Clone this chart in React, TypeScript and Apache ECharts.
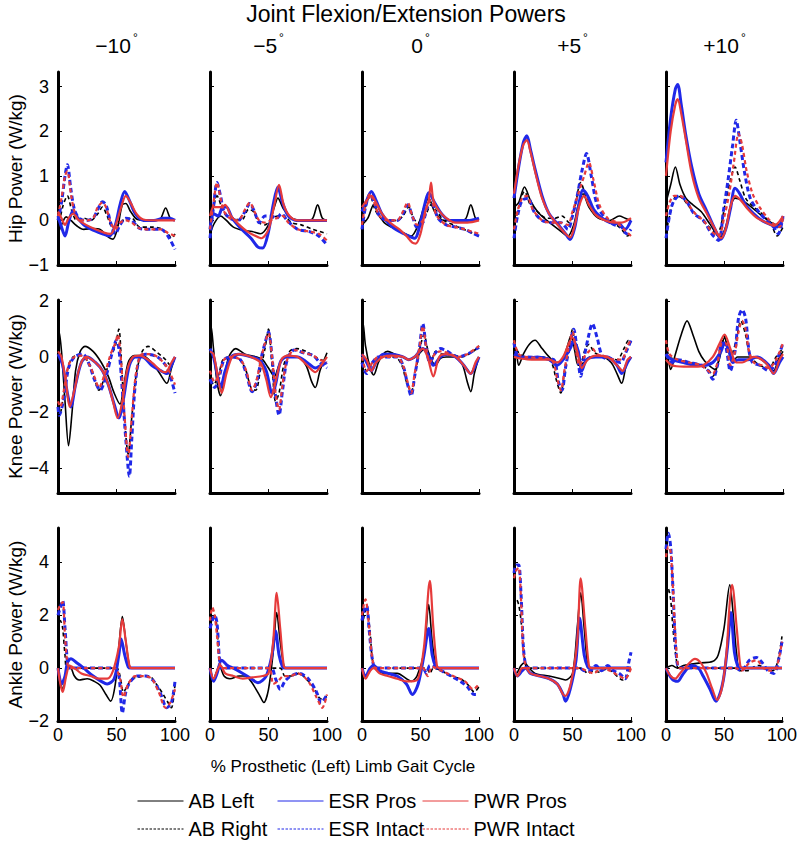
import React, { useEffect, useRef } from 'react';
import * as echarts from 'echarts';

const FONT = '"Liberation Sans", Arial, Helvetica, sans-serif';

const ANGLES = ['−10', '−5', '0', '+5', '+10'];
const JOINT_LABELS = ['Hip Power (W/kg)', 'Knee Power (W/kg)', 'Ankle Power (W/kg)'];
const SERIES_NAMES = ['AB Left', 'AB Right', 'ESR Pros', 'ESR Intact', 'PWR Pros', 'PWR Intact'];
const X_TICKS = [0, 50, 100];
const HIP_TICKS = [-1, 0, 1, 2, 3];
const KNEE_TICKS = [-4, -2, 0, 2];
const ANKLE_TICKS = [-2, 0, 2, 4];
const HIP_RANGE = [-1, 3.33];
const KNEE_RANGE = [-4.9, 2.05];
const ANKLE_RANGE = [-2, 5.3];

// ---------- HIP ----------
const hipABLeft = [
  [[0,-0.3],[3,-0.1],[7,0.08],[11,0.0],[16,-0.12],[22,-0.2],[30,-0.18],[36,-0.2],[42,-0.35],[47,-0.42],[51,-0.15],[55,0.35],[58,0.38],[62,0.2],[68,0.02],[80,0.0],[87,0.02],[92,0.28],[96,0.05],[100,0.0]],
  [[0,-0.3],[4,-0.05],[9,0.1],[14,0.0],[20,-0.15],[28,-0.22],[36,-0.25],[43,-0.3],[50,-0.1],[55,0.3],[58,0.5],[63,0.25],[70,0.05],[80,0.0],[87,0.02],[92,0.35],[96,0.05],[100,0.0]],
  [[0,-0.1],[5,0.05],[10,0.35],[14,0.15],[19,-0.05],[25,-0.15],[33,-0.25],[42,-0.35],[48,-0.1],[53,0.3],[57,0.5],[62,0.2],[70,0.0],[80,0.0],[88,0.02],[93,0.35],[97,0.05],[100,0.0]],
  [[0,0.3],[4,0.4],[9,0.75],[14,0.45],[20,0.2],[28,0.0],[38,-0.2],[46,-0.35],[51,-0.1],[55,0.35],[59,0.6],[64,0.3],[72,0.05],[82,0.0],[90,0.1],[95,0.05],[100,0.0]],
  [[0,0.4],[4,0.8],[8,1.2],[12,0.8],[17,0.5],[23,0.35],[30,0.2],[38,-0.1],[46,-0.38],[51,-0.15],[55,0.3],[59,0.5],[65,0.45],[73,0.3],[82,0.1],[90,-0.05],[95,-0.1],[100,0.0]],
];
const hipABRight = [
  [[0,-0.2],[4,0.3],[8,0.55],[12,0.2],[16,0.0],[22,0.05],[28,0.0],[34,0.15],[38,0.3],[42,0.1],[46,-0.12],[52,-0.1],[58,0.05],[63,0.05],[70,-0.15],[80,-0.15],[88,-0.18],[94,-0.3],[97,-0.4],[100,-0.3]],
  [[0,-0.1],[3,0.3],[6,0.55],[10,0.3],[14,0.1],[20,0.05],[27,0.0],[33,0.25],[37,0.2],[42,-0.05],[47,-0.1],[53,0.05],[58,0.1],[63,0.1],[70,-0.05],[78,-0.1],[88,-0.2],[94,-0.25],[100,-0.3]],
  [[0,0.0],[3,0.3],[7,0.55],[11,0.25],[16,0.05],[22,0.0],[30,0.0],[35,0.1],[40,0.3],[44,0.05],[48,-0.05],[54,0.1],[59,0.35],[64,0.2],[70,0.0],[78,-0.1],[87,-0.2],[94,-0.28],[100,-0.35]],
  [[0,-0.2],[4,0.3],[9,0.65],[14,0.35],[20,0.2],[28,0.05],[35,0.05],[41,0.1],[47,-0.05],[52,0.3],[57,0.85],[62,0.5],[68,0.2],[76,0.05],[85,-0.05],[92,-0.2],[97,-0.35],[100,-0.3]],
  [[0,-0.3],[4,0.2],[9,0.55],[14,0.5],[20,0.3],[27,0.1],[35,-0.1],[42,-0.25],[46,-0.2],[50,0.3],[55,0.9],[59,1.2],[63,0.9],[68,0.5],[75,0.3],[82,0.15],[90,-0.1],[95,-0.35],[100,-0.15]],
];
const hipESRPros = [
  [[0,0.1],[3,-0.15],[6,-0.35],[9,-0.05],[13,0.22],[17,0.05],[22,-0.1],[30,-0.22],[38,-0.3],[44,-0.35],[49,-0.1],[53,0.35],[57,0.65],[61,0.45],[66,0.15],[73,0.0],[82,0.0],[90,0.05],[95,0.05],[100,0.0]],
  [[0,-0.2],[3,0.15],[7,0.1],[11,0.3],[14,0.3],[19,0.05],[27,-0.2],[35,-0.4],[41,-0.6],[45,-0.62],[50,-0.25],[54,0.35],[58,0.75],[62,0.4],[67,0.1],[74,0.0],[85,0.0],[100,0.0]],
  [[0,0.2],[4,0.45],[8,0.65],[12,0.45],[17,0.15],[24,-0.1],[32,-0.25],[40,-0.35],[45,-0.4],[50,-0.05],[54,0.4],[57,0.62],[62,0.4],[68,0.15],[75,0.0],[85,0.0],[92,0.0],[100,0.05]],
  [[0,0.5],[4,1.2],[8,1.75],[11,1.9],[14,1.6],[18,1.15],[24,0.55],[30,0.15],[38,-0.1],[44,-0.3],[48,-0.43],[52,-0.15],[55,0.3],[59,0.68],[63,0.55],[68,0.25],[74,0.08],[82,-0.05],[90,-0.08],[95,-0.2],[100,0.0]],
  [[0,1.3],[4,2.3],[8,2.95],[10,3.05],[13,2.6],[17,1.9],[22,1.2],[28,0.6],[35,0.2],[41,-0.15],[47,-0.42],[51,-0.2],[55,0.25],[59,0.72],[63,0.6],[68,0.35],[75,0.15],[82,0.0],[90,-0.1],[95,-0.15],[100,0.05]],
];
const hipESRIntact = [
  [[0,0.0],[3,0.4],[6,1.0],[8,1.25],[11,0.7],[14,0.25],[18,0.05],[24,0.0],[30,0.05],[34,0.25],[38,0.42],[41,0.35],[45,-0.05],[49,-0.3],[53,-0.1],[58,0.05],[63,0.0],[70,-0.18],[80,-0.2],[88,-0.2],[94,-0.35],[100,-0.65]],
  [[0,-0.4],[3,0.3],[6,0.85],[9,0.55],[12,0.2],[17,0.05],[24,0.0],[30,0.2],[34,0.38],[38,0.2],[42,-0.05],[47,0.1],[52,0.1],[57,0.05],[61,0.15],[66,0.0],[75,-0.2],[85,-0.25],[93,-0.35],[100,-0.55]],
  [[0,-0.2],[3,0.3],[7,0.6],[11,0.35],[15,0.1],[22,0.0],[30,0.0],[35,0.15],[39,0.35],[43,0.1],[47,-0.15],[52,-0.05],[56,0.3],[60,0.35],[65,0.05],[72,-0.1],[80,-0.15],[88,-0.2],[94,-0.28],[100,-0.35]],
  [[0,-0.4],[3,0.1],[7,0.45],[12,0.5],[17,0.2],[24,0.0],[32,-0.05],[40,-0.05],[46,-0.2],[50,0.1],[54,0.55],[58,1.1],[62,1.5],[66,1.0],[71,0.35],[78,0.05],[86,-0.1],[92,-0.15],[96,-0.3],[100,-0.2]],
  [[0,-0.4],[3,0.1],[6,0.4],[11,0.55],[17,0.45],[24,0.15],[32,0.0],[39,-0.3],[45,-0.45],[49,0.2],[53,0.9],[57,1.7],[60,2.25],[63,1.8],[67,1.1],[72,0.5],[79,0.2],[86,0.0],[92,-0.15],[96,-0.3],[100,0.1]],
];
const hipPWRPros = [
  [[0,0.2],[3,0.05],[6,-0.1],[9,0.05],[13,0.15],[18,0.0],[24,-0.1],[32,-0.2],[40,-0.28],[45,-0.3],[50,-0.05],[54,0.3],[58,0.55],[62,0.4],[67,0.15],[73,0.02],[85,0.0],[100,0.0]],
  [[0,0.1],[3,0.3],[6,0.3],[10,0.3],[13,0.35],[18,0.1],[25,-0.1],[32,-0.25],[39,-0.35],[44,-0.4],[50,-0.2],[55,0.35],[59,0.8],[63,0.35],[68,0.1],[75,0.0],[85,0.0],[100,0.0]],
  [[0,0.3],[4,0.45],[8,0.55],[12,0.4],[17,0.15],[24,-0.05],[32,-0.2],[38,-0.35],[43,-0.5],[46,-0.52],[50,-0.3],[54,0.2],[57,0.45],[59,0.85],[61,0.45],[65,0.25],[72,0.05],[80,-0.05],[90,-0.05],[100,0.0]],
  [[0,0.6],[4,1.25],[8,1.7],[11,1.8],[14,1.55],[18,1.1],[24,0.5],[30,0.15],[38,-0.12],[44,-0.3],[48,-0.38],[52,-0.1],[56,0.35],[60,0.55],[64,0.35],[70,0.12],[78,0.0],[86,-0.05],[92,-0.05],[100,0.05]],
  [[0,1.0],[4,2.0],[8,2.6],[10,2.72],[13,2.4],[17,1.8],[22,1.05],[28,0.5],[35,0.15],[41,-0.15],[47,-0.4],[51,-0.2],[55,0.3],[59,0.55],[64,0.45],[70,0.25],[78,0.05],[86,-0.05],[92,-0.12],[96,-0.05],[100,0.1]],
];
const hipPWRIntact = [
  [[0,0.1],[3,0.5],[6,1.0],[8,1.1],[11,0.6],[14,0.2],[18,0.0],[24,0.0],[30,0.05],[34,0.3],[38,0.4],[41,0.3],[45,-0.05],[49,-0.2],[53,-0.05],[58,0.0],[63,-0.05],[70,-0.18],[80,-0.2],[88,-0.2],[94,-0.28],[100,-0.35]],
  [[0,-0.2],[3,0.4],[6,0.85],[9,0.5],[12,0.2],[17,0.05],[24,0.0],[30,0.25],[34,0.4],[38,0.2],[42,0.0],[47,-0.05],[52,0.0],[57,0.05],[62,0.1],[67,-0.05],[75,-0.2],[85,-0.25],[93,-0.3],[100,-0.45]],
  [[0,-0.1],[3,0.35],[7,0.6],[11,0.35],[15,0.1],[22,0.0],[30,0.0],[35,0.2],[39,0.4],[43,0.1],[47,-0.1],[52,0.0],[56,0.35],[59,0.45],[64,0.1],[72,-0.1],[80,-0.15],[88,-0.2],[94,-0.25],[100,-0.3]],
  [[0,-0.2],[3,0.2],[7,0.5],[11,0.55],[16,0.25],[24,0.0],[32,-0.05],[40,-0.05],[46,-0.1],[50,0.2],[55,0.6],[60,1.0],[64,1.3],[68,0.9],[73,0.35],[80,0.05],[88,-0.05],[94,-0.2],[100,-0.35]],
  [[0,0.1],[3,0.4],[7,0.55],[12,0.55],[18,0.4],[25,0.15],[32,0.0],[39,-0.25],[45,-0.35],[50,0.1],[54,0.6],[58,1.3],[62,1.95],[65,1.7],[69,1.1],[74,0.6],[80,0.3],[87,0.05],[93,-0.1],[97,-0.15],[100,0.05]],
];

// ---------- KNEE ----------
const kneeABLeft = [
  [[0,0.4],[1,0.9],[3,0.2],[6,-1.6],[9,-3.2],[12,-2.0],[15,-0.5],[19,0.2],[23,0.38],[30,0.2],[37,-0.2],[43,-0.7],[48,-1.3],[53,-1.7],[56,-1.1],[60,-0.2],[65,0.05],[72,0.05],[80,-0.2],[87,-0.6],[93,-0.95],[97,-0.4],[100,0.0]],
  [[0,0.5],[1,1.1],[3,0.3],[6,-0.9],[9,-1.4],[12,-0.8],[16,0.0],[22,0.3],[30,0.1],[40,0.0],[45,-0.1],[50,-0.4],[55,-0.7],[59,-0.3],[64,0.0],[75,0.0],[82,-0.3],[87,-0.9],[90,-1.1],[94,-0.5],[100,0.15]],
  [[0,0.6],[1,1.2],[3,0.4],[7,-0.4],[10,-0.65],[14,-0.2],[18,0.1],[22,0.2],[28,0.1],[35,0.0],[40,-0.1],[46,0.0],[52,0.25],[55,0.3],[59,-0.1],[63,-0.3],[67,-0.05],[72,0.0],[80,0.0],[86,-0.3],[90,-0.9],[93,-1.25],[96,-0.6],[100,0.0]],
  [[0,0.5],[2,0.2],[4,-0.3],[8,0.1],[13,0.45],[18,0.6],[24,0.3],[30,0.0],[36,-0.2],[41,-0.15],[45,0.3],[49,0.8],[52,0.2],[55,-0.3],[60,-0.2],[65,0.0],[75,0.0],[83,-0.2],[88,-0.6],[92,-0.95],[96,-0.3],[100,0.0]],
  [[0,0.3],[2,-0.1],[4,-0.45],[8,0.1],[13,0.8],[18,1.3],[23,0.8],[28,0.2],[33,-0.15],[38,-0.35],[42,-0.45],[46,0.0],[50,0.7],[53,0.3],[57,-0.2],[61,0.0],[70,0.0],[80,-0.05],[87,-0.3],[92,-0.5],[96,-0.1],[100,0.2]],
];
const kneeABRight = [
  [[0,-1.5],[2,-2.0],[5,-1.3],[9,-0.3],[13,0.0],[20,0.05],[26,-0.2],[30,-0.6],[35,-1.2],[40,-0.7],[45,0.0],[49,0.4],[52,1.0],[54,0.0],[57,-2.3],[60,-3.5],[63,-2.2],[67,-0.6],[72,0.2],[77,0.38],[85,0.15],[92,-0.1],[96,-0.3],[100,0.0]],
  [[0,-0.6],[3,-1.0],[7,-0.7],[11,-0.1],[16,0.0],[24,-0.05],[30,-0.4],[35,-1.1],[39,-1.2],[43,-0.5],[47,0.3],[50,1.0],[53,-0.3],[56,-1.6],[59,-1.3],[63,-0.3],[68,0.2],[74,0.3],[82,0.2],[90,0.0],[100,-0.2]],
  [[0,-0.2],[4,-0.5],[9,-0.2],[14,0.0],[28,0.0],[34,-0.3],[38,-0.9],[42,-1.25],[46,-0.5],[50,0.4],[53,0.8],[56,0.3],[59,-0.2],[63,0.2],[68,0.1],[75,0.1],[85,0.0],[95,0.2],[100,0.4]],
  [[0,0.5],[4,0.15],[10,0.0],[25,0.0],[32,-0.2],[36,-0.8],[40,-1.3],[43,-0.6],[47,0.3],[50,1.0],[53,0.1],[57,-0.2],[61,0.3],[64,0.45],[69,0.15],[78,0.0],[88,-0.1],[94,0.3],[98,0.6],[100,0.5]],
  [[0,0.5],[3,0.0],[10,-0.1],[20,-0.2],[30,-0.3],[37,-0.5],[40,-0.7],[44,-0.3],[48,0.5],[50,0.75],[53,0.0],[56,0.05],[60,0.6],[64,1.3],[68,0.8],[72,0.05],[80,-0.3],[88,-0.4],[94,0.0],[100,0.3]],
];
const kneeESRPros = [
  [[0,0.1],[4,-0.3],[8,-1.3],[11,-1.8],[15,-1.0],[20,-0.2],[25,0.0],[32,-0.2],[38,-0.5],[43,-1.0],[48,-1.7],[52,-2.2],[56,-1.5],[61,-0.3],[66,0.0],[72,0.0],[80,-0.3],[88,-0.5],[93,-0.6],[97,-0.3],[100,0.0]],
  [[0,0.3],[3,0.0],[7,-0.8],[9,-1.1],[13,-0.5],[18,0.0],[25,0.1],[35,0.0],[42,-0.1],[48,-0.5],[53,-1.3],[56,-1.0],[60,-0.2],[65,0.0],[75,0.0],[83,-0.2],[90,-0.4],[95,-0.3],[100,-0.2]],
  [[0,0.1],[4,-0.2],[8,-0.5],[12,-0.2],[18,0.1],[25,0.1],[35,0.0],[40,-0.1],[45,0.0],[52,0.3],[56,0.1],[61,-0.3],[67,0.0],[73,0.1],[80,0.0],[87,-0.3],[93,-0.6],[97,-0.3],[100,0.0]],
  [[0,0.1],[5,0.0],[10,-0.05],[20,0.0],[30,-0.1],[37,-0.3],[42,-0.1],[48,0.3],[51,0.55],[55,0.2],[58,-0.5],[62,-0.1],[70,0.0],[80,0.0],[88,-0.3],[92,-0.6],[97,-0.2],[100,0.0]],
  [[0,0.1],[5,-0.1],[15,-0.2],[25,-0.3],[32,-0.3],[40,-0.2],[47,0.2],[50,0.5],[54,0.2],[57,-0.2],[62,-0.1],[70,-0.1],[78,0.0],[88,-0.3],[92,-0.6],[97,-0.2],[100,0.0]],
];
const kneeESRIntact = [
  [[0,-1.8],[1,-2.1],[5,-1.5],[9,-0.4],[14,0.0],[21,0.1],[27,-0.3],[31,-0.8],[36,-1.2],[41,-0.7],[46,0.1],[50,0.6],[52,0.3],[55,-1.2],[58,-3.0],[61,-4.3],[63,-3.0],[66,-1.0],[70,0.0],[75,0.1],[85,0.0],[92,-0.3],[96,-0.7],[100,-1.3]],
  [[0,-0.8],[4,-1.1],[8,-0.7],[12,-0.1],[18,0.0],[26,-0.1],[31,-0.6],[36,-1.25],[40,-0.9],[44,0.0],[47,0.5],[50,0.9],[53,0.0],[56,-1.4],[59,-2.1],[62,-1.2],[66,-0.1],[72,0.25],[80,0.15],[88,0.05],[94,-0.2],[100,-0.4]],
  [[0,-0.2],[4,-0.6],[9,-0.2],[14,0.0],[30,0.0],[35,-0.3],[39,-1.0],[42,-1.4],[45,-0.7],[49,0.3],[52,1.2],[55,0.3],[58,-0.2],[62,0.1],[67,0.3],[73,0.2],[82,0.0],[90,0.1],[100,0.35]],
  [[0,0.5],[4,0.0],[10,0.0],[25,-0.05],[34,-0.1],[38,-0.9],[41,-1.2],[44,-0.4],[48,0.5],[51,1.0],[54,0.2],[57,-0.7],[60,0.0],[64,0.8],[67,1.2],[71,0.7],[76,0.0],[85,-0.1],[91,-0.2],[96,0.2],[100,0.6]],
  [[0,0.1],[5,-0.2],[10,-0.1],[20,-0.2],[30,-0.3],[36,-0.5],[40,-0.8],[44,-0.3],[48,0.5],[51,0.4],[55,-0.5],[59,0.2],[62,1.4],[65,1.7],[68,1.4],[71,0.2],[74,-0.2],[80,-0.3],[88,-0.5],[93,-0.3],[100,0.5]],
];
const kneePWRPros = [
  [[0,0.2],[3,0.0],[7,-1.0],[10,-1.8],[14,-1.2],[19,-0.3],[24,0.0],[32,-0.2],[38,-0.5],[43,-1.0],[47,-1.6],[51,-2.2],[55,-1.6],[59,-0.5],[64,0.0],[70,0.05],[80,-0.2],[88,-0.5],[92,-0.55],[97,-0.2],[100,0.0]],
  [[0,0.2],[3,0.1],[7,-0.8],[10,-1.3],[14,-0.6],[19,0.0],[25,0.1],[35,0.0],[43,-0.2],[48,-0.8],[52,-1.45],[56,-0.9],[61,-0.1],[66,0.05],[75,0.0],[83,-0.3],[90,-0.55],[95,-0.3],[100,0.0]],
  [[0,0.1],[4,-0.1],[8,-0.5],[12,-0.2],[18,0.0],[25,0.05],[35,0.0],[40,-0.1],[45,0.0],[52,0.3],[56,0.0],[61,-0.7],[66,0.0],[72,0.1],[80,0.0],[87,-0.3],[93,-0.6],[97,-0.2],[100,0.0]],
  [[0,0.0],[5,-0.05],[15,-0.1],[30,-0.1],[37,-0.2],[42,0.0],[47,0.5],[50,0.7],[54,0.2],[58,-0.4],[63,-0.1],[70,0.05],[80,0.0],[88,-0.3],[93,-0.5],[97,-0.1],[100,0.0]],
  [[0,-0.1],[5,-0.3],[15,-0.35],[25,-0.35],[32,-0.3],[40,0.0],[46,0.5],[50,0.8],[55,0.3],[60,-0.2],[65,-0.2],[75,0.0],[85,-0.2],[92,-0.6],[97,-0.1],[100,0.1]],
];
const kneePWRIntact = [
  [[0,-1.6],[2,-1.8],[5,-1.2],[9,-0.3],[14,0.0],[21,0.05],[27,-0.3],[31,-0.7],[35,-1.1],[40,-0.6],[45,0.1],[49,0.5],[51,0.8],[54,-0.2],[57,-2.2],[60,-3.6],[63,-2.2],[67,-0.5],[72,0.1],[78,0.1],[85,0.0],[92,-0.3],[96,-0.6],[100,-1.0]],
  [[0,-0.5],[4,-0.9],[8,-0.6],[12,-0.1],[18,0.0],[26,-0.1],[31,-0.5],[36,-1.2],[40,-0.8],[44,0.0],[47,0.5],[50,0.85],[53,0.0],[56,-1.3],[59,-1.9],[62,-1.0],[66,-0.1],[72,0.25],[80,0.15],[88,0.05],[94,-0.1],[100,-0.2]],
  [[0,0.0],[4,-0.5],[9,-0.2],[14,0.0],[30,0.0],[35,-0.3],[39,-0.9],[42,-1.3],[45,-0.6],[49,0.3],[52,1.1],[55,0.3],[58,-0.2],[62,0.1],[67,0.2],[73,0.15],[82,0.0],[90,0.1],[100,0.4]],
  [[0,0.6],[4,0.1],[10,0.0],[25,-0.05],[33,-0.15],[37,-0.8],[40,-1.2],[43,-0.5],[47,0.4],[50,0.9],[53,0.2],[56,-0.3],[60,0.0],[64,0.2],[67,0.3],[71,0.1],[78,0.0],[86,-0.1],[92,-0.1],[97,0.4],[100,0.6]],
  [[0,0.6],[3,0.1],[10,-0.1],[20,-0.2],[30,-0.3],[36,-0.5],[40,-0.6],[44,-0.2],[48,0.5],[51,0.5],[55,-0.3],[59,0.2],[62,0.9],[65,1.3],[68,1.0],[71,0.2],[75,-0.2],[82,-0.3],[88,-0.4],[94,-0.1],[100,0.5]],
];

// ---------- ANKLE ----------
const ankleABLeft = [
  [[0,0.0],[2,-0.5],[4,-0.8],[8,0.0],[10,0.1],[14,-0.3],[18,-0.45],[25,-0.4],[31,-0.5],[36,-0.65],[41,-1.0],[45,-1.25],[49,-0.6],[52,0.8],[55,1.95],[58,1.0],[61,0.1],[63,0.0],[100,0.0]],
  [[0,0.0],[3,-0.4],[6,-0.1],[8,0.1],[12,-0.3],[17,-0.4],[25,-0.3],[30,-0.3],[35,-0.5],[42,-1.0],[46,-1.3],[50,-0.8],[54,0.6],[57,2.1],[60,1.0],[63,0.1],[65,0.0],[100,0.0]],
  [[0,0.0],[3,-0.3],[7,0.0],[10,0.1],[14,-0.1],[20,-0.2],[30,-0.2],[38,-0.4],[42,-0.5],[47,-0.3],[53,0.6],[57,2.4],[60,1.0],[63,0.1],[65,0.0],[100,0.0]],
  [[0,0.1],[2,-0.2],[6,0.1],[9,0.2],[13,0.0],[18,-0.2],[30,-0.3],[40,-0.4],[44,-0.45],[50,-0.2],[54,1.5],[57,2.85],[60,1.5],[63,0.1],[65,0.0],[100,0.0]],
  [[0,0.0],[5,0.1],[10,0.0],[15,0.1],[22,0.15],[30,0.2],[40,0.25],[45,0.5],[50,1.5],[55,3.15],[58,2.0],[61,0.5],[64,0.0],[100,0.0]],
];
const ankleABRight = [
  [[0,1.5],[2,1.8],[4,1.5],[6,0.5],[8,0.0],[50,0.0],[53,-0.3],[56,-0.9],[59,-0.7],[63,-0.4],[68,-0.35],[73,-0.3],[78,-0.3],[84,-0.6],[90,-1.0],[94,-1.3],[97,-1.5],[100,-0.6]],
  [[0,1.5],[2,1.9],[4,2.0],[6,1.5],[8,0.3],[10,0.0],[60,0.0],[64,-0.3],[70,-0.3],[76,-0.2],[82,-0.4],[88,-0.7],[93,-1.1],[97,-1.2],[100,-1.0]],
  [[0,1.6],[2,2.0],[4,2.3],[7,1.3],[9,0.3],[12,0.0],[55,0.0],[58,-0.2],[61,0.0],[68,-0.1],[76,-0.3],[84,-0.4],[90,-0.6],[96,-0.9],[100,-0.7]],
  [[0,2.4],[2,2.6],[4,2.4],[6,1.8],[9,0.4],[12,0.0],[58,0.0],[63,-0.2],[68,-0.1],[73,-0.15],[78,-0.05],[83,-0.1],[88,-0.3],[93,-0.45],[97,-0.3],[100,0.1]],
  [[0,2.5],[2,3.0],[4,2.6],[6,1.5],[9,0.3],[11,0.0],[60,0.0],[64,-0.1],[70,-0.1],[76,0.05],[80,0.1],[86,0.0],[92,-0.1],[96,0.2],[100,1.2]],
];
const ankleESRPros = [
  [[0,0.0],[3,-0.6],[6,-0.3],[8,0.2],[11,0.35],[16,0.2],[22,0.0],[30,-0.3],[37,-0.5],[42,-0.6],[48,-0.4],[52,0.5],[54,1.1],[57,0.5],[60,0.05],[62,0.0],[100,0.0]],
  [[0,0.0],[3,-0.5],[6,-0.2],[10,0.3],[15,0.1],[20,0.0],[28,-0.2],[35,-0.4],[41,-0.55],[48,-0.3],[53,0.5],[56,1.4],[59,0.5],[62,0.05],[64,0.0],[100,0.0]],
  [[0,0.0],[3,-0.3],[7,0.0],[10,0.1],[15,-0.1],[22,-0.2],[30,-0.3],[38,-0.6],[43,-1.0],[48,-0.6],[53,0.5],[57,1.5],[60,0.5],[63,0.05],[65,0.0],[100,0.0]],
  [[0,0.0],[3,-0.3],[7,-0.1],[10,0.0],[14,-0.2],[22,-0.3],[30,-0.4],[37,-0.6],[42,-1.0],[44,-1.25],[48,-0.8],[53,0.3],[56,1.9],[60,0.5],[63,0.05],[65,0.0],[100,0.0]],
  [[0,0.0],[5,-0.4],[10,-0.5],[15,-0.2],[22,0.1],[28,0.0],[32,-0.3],[38,-0.8],[43,-1.25],[47,-0.9],[50,-0.3],[53,0.8],[56,2.1],[59,0.6],[62,0.05],[64,0.0],[100,0.0]],
];
const ankleESRIntact = [
  [[0,2.0],[2,2.3],[4,2.55],[6,1.5],[8,0.3],[10,0.0],[48,0.0],[52,-0.3],[55,-1.7],[58,-0.9],[62,-0.5],[68,-0.3],[75,-0.3],[82,-0.5],[88,-1.0],[93,-1.5],[97,-1.3],[100,-0.5]],
  [[0,1.5],[2,1.8],[4,2.0],[6,1.7],[8,0.4],[10,0.0],[52,0.0],[56,-0.4],[60,-0.8],[64,-0.5],[69,-0.3],[76,-0.2],[84,-0.4],[91,-0.9],[95,-1.3],[100,-1.0]],
  [[0,1.8],[2,2.2],[4,2.35],[6,1.5],[9,0.3],[12,0.0],[52,0.0],[55,-0.2],[58,0.1],[62,0.05],[68,-0.1],[76,-0.3],[84,-0.5],[90,-0.7],[96,-1.0],[100,-1.0]],
  [[0,3.6],[2,3.9],[4,3.9],[6,2.8],[8,0.8],[10,0.1],[12,0.0],[56,0.0],[60,-0.1],[65,-0.1],[70,0.1],[75,-0.1],[80,0.1],[85,-0.1],[90,-0.2],[95,-0.4],[98,0.2],[100,0.6]],
  [[0,4.5],[2,5.1],[4,4.6],[6,3.0],[8,1.0],[10,0.1],[12,0.0],[60,0.0],[65,-0.1],[72,0.3],[78,0.4],[83,0.2],[88,-0.1],[93,-0.2],[97,0.3],[100,1.0]],
];
const anklePWRPros = [
  [[0,0.0],[2,-0.6],[4,-0.9],[7,-0.3],[10,0.1],[14,0.0],[20,-0.2],[28,-0.3],[35,-0.4],[42,-0.4],[47,-0.1],[52,0.8],[55,1.85],[58,1.0],[61,0.1],[63,0.0],[100,0.0]],
  [[0,0.0],[3,-0.4],[7,0.0],[9,0.1],[13,-0.2],[20,-0.3],[28,-0.4],[36,-0.35],[45,-0.3],[50,-0.2],[54,1.0],[57,2.85],[60,1.5],[63,0.1],[65,0.0],[100,0.0]],
  [[0,0.0],[3,-0.4],[7,-0.1],[10,0.0],[15,-0.2],[22,-0.3],[30,-0.4],[38,-0.5],[42,-0.5],[48,-0.4],[53,0.8],[58,3.3],[61,1.5],[64,0.1],[66,0.0],[100,0.0]],
  [[0,0.0],[3,-0.3],[7,0.0],[10,0.0],[14,-0.2],[22,-0.3],[30,-0.4],[37,-0.6],[42,-1.0],[44,-1.05],[49,-0.5],[54,1.0],[57,3.4],[61,1.5],[64,0.1],[66,0.0],[100,0.0]],
  [[0,0.0],[4,-0.3],[8,-0.4],[12,-0.2],[18,0.1],[25,0.35],[30,0.2],[35,-0.2],[40,-0.8],[44,-1.2],[48,-0.8],[52,0.5],[55,2.5],[57,3.15],[61,1.5],[64,0.1],[66,0.0],[100,0.0]],
];
const anklePWRIntact = [
  [[0,2.2],[2,2.4],[4,2.5],[6,1.2],[8,0.2],[10,0.0],[48,0.0],[53,-0.4],[56,-1.1],[60,-0.6],[66,-0.3],[73,-0.3],[80,-0.4],[86,-0.9],[92,-1.5],[96,-1.3],[100,-0.8]],
  [[0,1.8],[2,2.3],[4,2.0],[6,1.2],[8,0.3],[10,0.0],[50,0.0],[54,-0.6],[58,-0.5],[63,-0.3],[68,-0.3],[75,-0.2],[84,-0.5],[91,-1.1],[96,-1.5],[100,-1.0]],
  [[0,2.0],[2,2.5],[3,2.6],[6,1.6],[9,0.3],[12,0.0],[52,0.0],[56,-0.3],[60,0.05],[68,-0.1],[78,-0.3],[88,-0.5],[95,-0.8],[100,-0.6]],
  [[0,3.4],[2,3.7],[4,3.8],[6,2.6],[8,0.6],[10,0.1],[12,0.0],[56,0.0],[62,-0.1],[68,-0.2],[75,0.0],[82,-0.1],[90,-0.3],[95,-0.4],[100,0.0]],
  [[0,4.2],[2,4.6],[4,4.4],[6,3.0],[8,1.3],[10,0.2],[12,0.0],[60,0.0],[65,-0.1],[72,0.2],[78,0.3],[84,0.0],[90,-0.1],[95,0.0],[100,1.0]],
];

const JOINT_DATA = [
  [hipABLeft, hipABRight, hipESRPros, hipESRIntact, hipPWRPros, hipPWRIntact],
  [kneeABLeft, kneeABRight, kneeESRPros, kneeESRIntact, kneePWRPros, kneePWRIntact],
  [ankleABLeft, ankleABRight, ankleESRPros, ankleESRIntact, anklePWRPros, anklePWRIntact],
];
const JOINT_TICKS = [HIP_TICKS, KNEE_TICKS, ANKLE_TICKS];
const JOINT_RANGES = [HIP_RANGE, KNEE_RANGE, ANKLE_RANGE];

const BLUE = '#2028e8';
const RED = '#e63b3b';
const SERIES_STYLE = [
  { color: '#000000', width: 1.6, type: 'solid' as any, dashed: false },
  { color: '#000000', width: 1.6, type: [4, 3] as any, dashed: true },
  { color: BLUE, width: 3, type: 'solid' as any, dashed: false },
  { color: BLUE, width: 3, type: [5, 3] as any, dashed: true },
  { color: RED, width: 2.2, type: 'solid' as any, dashed: false },
  { color: RED, width: 2.2, type: [4, 3] as any, dashed: true },
];

const GRID_LEFT0 = 58;
const GRID_STEP = 152;
const GRID_W = 117;
const GRID_TOPS = [72, 300, 528];
const GRID_H = 193;

const fmt = (v: number) => (v < 0 ? '−' + Math.abs(v) : String(v));

function buildOption() {
  const grid: any[] = [];
  const xAxis: any[] = [];
  const yAxis: any[] = [];
  const series: any[] = [];
  for (let r = 0; r < 3; r++) {
    for (let c = 0; c < 5; c++) {
      const idx = r * 5 + c;
      grid.push({ left: GRID_LEFT0 + c * GRID_STEP, top: GRID_TOPS[r], width: GRID_W, height: GRID_H, containLabel: false });
      xAxis.push({
        gridIndex: idx, type: 'value', min: 0, max: 100, interval: 50,
        axisLine: { show: true, onZero: false, lineStyle: { color: '#000', width: 3 } },
        axisTick: { show: true, inside: true, length: 4, customValues: X_TICKS, lineStyle: { color: '#000', width: 1 } },
        axisLabel: { show: r === 2, customValues: X_TICKS, color: '#000', fontSize: 18, fontFamily: FONT, margin: 5 },
        splitLine: { show: false },
      });
      const ticks = JOINT_TICKS[r];
      yAxis.push({
        gridIndex: idx, type: 'value', min: JOINT_RANGES[r][0], max: JOINT_RANGES[r][1],
        axisLine: { show: true, onZero: false, lineStyle: { color: '#000', width: 3 } },
        axisTick: { show: true, inside: true, length: 4, customValues: ticks, lineStyle: { color: '#000', width: 1 } },
        axisLabel: { show: c === 0, customValues: ticks, formatter: fmt, color: '#000', fontSize: 18, fontFamily: FONT, margin: 9 },
        splitLine: { show: false },
        name: c === 0 ? JOINT_LABELS[r] : '',
        nameLocation: 'middle', nameRotate: 90, nameGap: 31,
        nameTextStyle: { color: '#000', fontSize: 19, fontFamily: FONT },
      });
      for (let k = 0; k < 6; k++) {
        const st = SERIES_STYLE[k];
        series.push({
          type: 'line', name: SERIES_NAMES[k], xAxisIndex: idx, yAxisIndex: idx,
          data: JOINT_DATA[r][k][c], symbol: 'none', showSymbol: false, smooth: 0.3,
          color: st.color, silent: true, clip: true,
          lineStyle: { color: st.color, width: st.width, type: st.type },
          emphasis: { disabled: true },
        });
      }
    }
  }
  const legend = [0, 1, 2].map((k) => ({
    data: [k * 2, k * 2 + 1].map((i) => ({
      name: SERIES_NAMES[i],
      lineStyle: { width: 1, type: SERIES_STYLE[i].dashed ? [2.5, 1.5] : 'solid', color: SERIES_STYLE[i].color },
      itemStyle: { color: 'rgba(0,0,0,0)', borderColor: 'rgba(0,0,0,0)', borderWidth: 0, opacity: 0 },
    })),
    orient: 'vertical', left: [137, 277, 422][k], top: 791,
    itemWidth: 46, itemHeight: 14, itemGap: 8, padding: 0, selectedMode: false,
    textStyle: { color: '#000', fontSize: 20, fontFamily: FONT },
    lineStyle: { width: 1 },
    itemStyle: { color: 'rgba(0,0,0,0)', borderColor: 'rgba(0,0,0,0)', borderWidth: 0, opacity: 0 },
  }));
  const title: any[] = [
    { text: 'Joint Flexion/Extension Powers', left: 406, top: 2, textAlign: 'center', padding: 0,
      textStyle: { fontSize: 23, fontWeight: 'normal', color: '#000', fontFamily: FONT } },
    ...ANGLES.map((a, c) => ({
      text: `{n|${a}}{d|°}`, left: GRID_LEFT0 + c * GRID_STEP + GRID_W / 2, top: 32, textAlign: 'center', padding: 0,
      textStyle: {
        fontSize: 21, fontWeight: 'normal', color: '#000', fontFamily: FONT,
        rich: {
          n: { fontSize: 21, color: '#000', fontFamily: FONT },
          d: { fontSize: 12, color: '#000', fontFamily: FONT, padding: [0, 0, 14, 2] },
        },
      },
    })),
    { text: '% Prosthetic (Left) Limb Gait Cycle', left: 343, top: 758, textAlign: 'center', padding: 0,
      textStyle: { fontSize: 17, fontWeight: 'normal', color: '#000', fontFamily: FONT } },
  ];
  return { animation: false, backgroundColor: '#ffffff', title, legend, grid, xAxis, yAxis, series };
}

export default function App() {
  const ref = useRef<HTMLDivElement>(null);
  useEffect(() => {
    if (!ref.current) return;
    const chart = echarts.init(ref.current, null, { renderer: 'svg' });
    chart.setOption(buildOption() as any);
    return () => chart.dispose();
  }, []);
  return <div ref={ref} style={{ position: 'fixed', left: 0, top: 0, width: 800, height: 845, background: '#fff' }} />;
}
